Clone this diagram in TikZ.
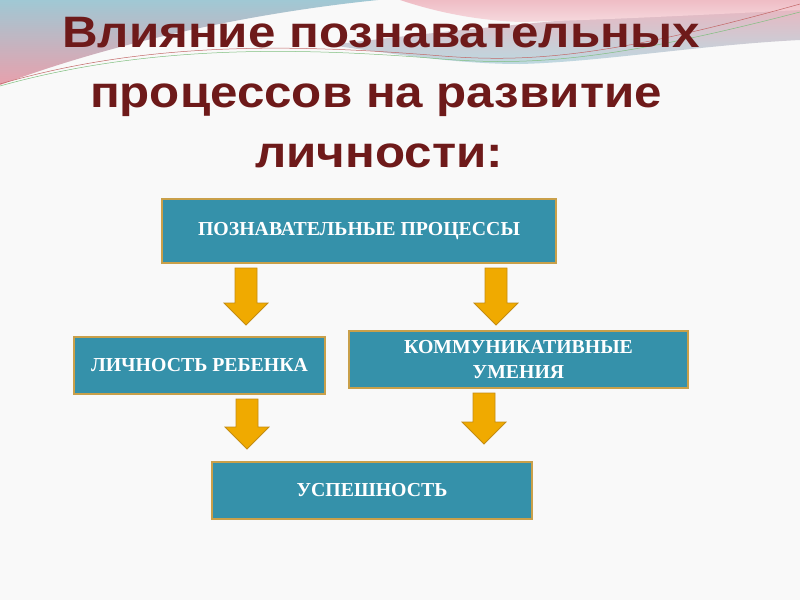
\documentclass[tikz,border=0pt]{standalone}
\usepackage{fontspec}
\setmainfont{Liberation Serif}
\newfontfamily\titlefont{Liberation Sans}
\definecolor{boxfill}{RGB}{53,145,170}
\definecolor{boxline}{RGB}{201,160,74}
\definecolor{titlered}{RGB}{110,26,26}
\definecolor{arrfill}{RGB}{240,170,0}
\definecolor{arrline}{RGB}{196,140,20}
\definecolor{bgc}{RGB}{249,249,249}
\definecolor{swteal}{RGB}{160,200,212}
\definecolor{swpink}{RGB}{232,160,172}
\tikzset{
  box/.style={draw=boxline, line width=1.6pt, fill=boxfill, text=white,
    font=\fontsize{19.8}{25}\selectfont\bfseries, align=center, inner sep=0pt},
  titletext/.style={text=titlered, font=\titlefont\fontsize{44}{60}\selectfont\bfseries, anchor=base},
  blockarr/.style={draw=arrline, fill=arrfill, line width=0.8pt}
}
% block arrow: #1 = top centre, #2 = shaft length
\newcommand\myblockarrow[2]{%
  \draw[blockarr, shift={#1}]
    (-11,0) -- (11,0) -- (11,#2) -- (22,#2) -- (0,#2+22) -- (-22,#2) -- (-11,#2) -- cycle;}
\begin{document}
\begin{tikzpicture}[x=1pt,y=-1pt]
\useasboundingbox (0,0) rectangle (800,600);
\fill[bgc] (0,0) rectangle (800,600);
% decorative swooshes
\shade[top color=swteal, bottom color=swpink]
  (0,0) -- (378,0) .. controls (260,12) and (120,40) .. (0,85) -- cycle;
\shade[top color=swpink!80, bottom color=swteal!70]
  (330,45) .. controls (450,30) and (560,20) .. (800,0) -- (800,40)
  .. controls (700,45) and (600,62) .. (520,64) .. controls (460,64) and (400,55) .. (330,45) -- cycle;
\shade[top color=swpink!70, bottom color=swpink!40]
  (400,0) -- (800,0) -- (800,10) .. controls (700,15) and (600,20) .. (520,22) .. controls (470,20) and (430,10) .. (400,0) -- cycle;
\draw[red!60!black!60, line width=0.5pt] (0,84) .. controls (150,40) and (300,45) .. (430,55) .. controls (520,63) and (600,60) .. (800,4);
\draw[green!50!black!50, line width=0.5pt] (0,86) .. controls (150,44) and (300,48) .. (430,58) .. controls (520,66) and (600,64) .. (800,12);
% title
\node[titletext] (t1) at (381,47) {\scalebox{1.12}[1]{Влияние познавательных}};
\node[titletext] (t2) at (376,107) {\scalebox{1.12}[1]{процессов на развитие}};
\node[titletext] (t3) at (379,167) {\scalebox{1.12}[1]{личности:}};
% boxes
\node[box, minimum width=394pt, minimum height=64pt] (pp) at (359,231) {ПОЗНАВАТЕЛЬНЫЕ ПРОЦЕССЫ};
\node[box, minimum width=251pt, minimum height=57pt] (lr) at (199.5,365.5) {ЛИЧНОСТЬ РЕБЕНКА};
\node[box, minimum width=339pt, minimum height=57pt] (ku) at (518.5,359.5) {КОММУНИКАТИВНЫЕ\\[0pt]УМЕНИЯ};
\node[box, minimum width=320pt, minimum height=57pt] (us) at (372,490.5) {УСПЕШНОСТЬ};
% arrows
\myblockarrow{(246,268)}{35}
\myblockarrow{(496,268)}{35}
\myblockarrow{(247,399)}{28}
\myblockarrow{(484,393)}{29}
\end{tikzpicture}
\end{document}
